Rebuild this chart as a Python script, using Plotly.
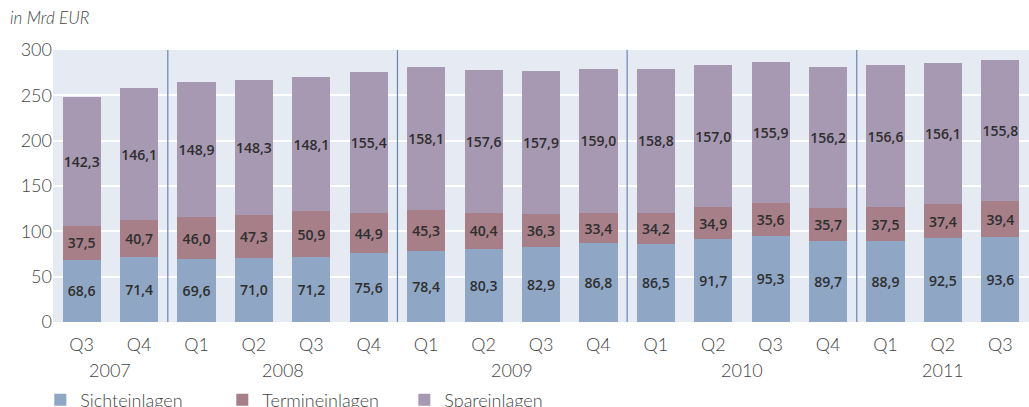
import plotly.graph_objects as go

years = ["2007", "2007",
         "2008", "2008", "2008", "2008",
         "2009", "2009", "2009", "2009",
         "2010", "2010", "2010", "2010",
         "2011", "2011", "2011"]
quarters = ["Q3", "Q4",
            "Q1", "Q2", "Q3", "Q4",
            "Q1", "Q2", "Q3", "Q4",
            "Q1", "Q2", "Q3", "Q4",
            "Q1", "Q2", "Q3"]

sicht = [68.6, 71.4, 69.6, 71.0, 71.2, 75.6, 78.4, 80.3, 82.9, 86.8,
         86.5, 91.7, 95.3, 89.7, 88.9, 92.5, 93.6]
termin = [37.5, 40.7, 46.0, 47.3, 50.9, 44.9, 45.3, 40.4, 36.3, 33.4,
          34.2, 34.9, 35.6, 35.7, 37.5, 37.4, 39.4]
spare = [142.3, 146.1, 148.9, 148.3, 148.1, 155.4, 158.1, 157.6, 157.9, 159.0,
         158.8, 157.0, 155.9, 156.2, 156.6, 156.1, 155.8]

series = [("Sichteinlagen", sicht, "#8fa6c5"),
          ("Termineinlagen", termin, "#a67f88"),
          ("Spareinlagen", spare, "#a799b2")]

cats = [q + " " + y for q, y in zip(quarters, years)]
txt = "#454545"

fig = go.Figure()
for name, vals, col in series:
    fig.add_trace(go.Bar(
        x=cats, y=vals, name=name,
        marker=dict(color=col, line=dict(width=0)),
        texttemplate="%{y:.1f}", textposition="inside", textangle=0,
        insidetextanchor="middle", constraintext="none",
        textfont=dict(family="Open Sans", size=14, color="#2e2e2e", weight=600),
    ))

# year separators and year labels
start = 0
for i in range(1, len(years) + 1):
    if i == len(years) or years[i] != years[start]:
        fig.add_annotation(x=(start + i - 1) / 2, xref="x", y=-48 / 272, yref="paper",
                           text=years[start], showarrow=False, yanchor="middle",
                           font=dict(family="Lato", size=18, color=txt, weight=300))
        if i < len(years):
            fig.add_shape(type="line", xref="x", yref="paper",
                          x0=i - 0.5, x1=i - 0.5, y0=0, y1=1,
                          line=dict(color="#6685b5", width=1.2))
        start = i

fig.update_layout(
    barmode="stack", bargap=0.335,
    separators=",.",
    width=1029, height=407,
    margin=dict(l=53, r=0, t=50, b=85, autoexpand=False),
    paper_bgcolor="white", plot_bgcolor="#e6ebf3",
    font=dict(family="Lato", color=txt),
    title=dict(text="in Mrd EUR", x=10 / 1029, xref="container", xanchor="left",
               y=1 - 18 / 407, yref="container", yanchor="middle",
               pad=dict(l=0, r=0, t=0, b=0),
               font=dict(family="Lato", size=17, color=txt, style="italic",
                         weight=300)),
    legend=dict(orientation="h", x=-0.013, xanchor="left", traceorder="normal",
                y=-78 / 272, yanchor="middle", entrywidth=137,
                font=dict(family="Lato", size=18, color=txt, weight=300),
                itemwidth=30),
    showlegend=True,
)
fig.update_xaxes(type="category", tickvals=cats, ticktext=quarters, ticks="",
                 automargin=False, ticklabelstandoff=10,
                 tickfont=dict(family="Lato", size=18, color=txt, weight=300),
                 showgrid=False, showline=False)
fig.update_yaxes(range=[0, 300], dtick=50, showgrid=True, gridcolor="white",
                 gridwidth=1.5, zeroline=False, showline=False, automargin=False,
                 tickfont=dict(family="Lato", size=18, color=txt, weight=300))

fig.write_html("out.html", config={"displayModeBar": False},
               post_script="document.body.style.margin='0';document.body.style.overflow='hidden';")
